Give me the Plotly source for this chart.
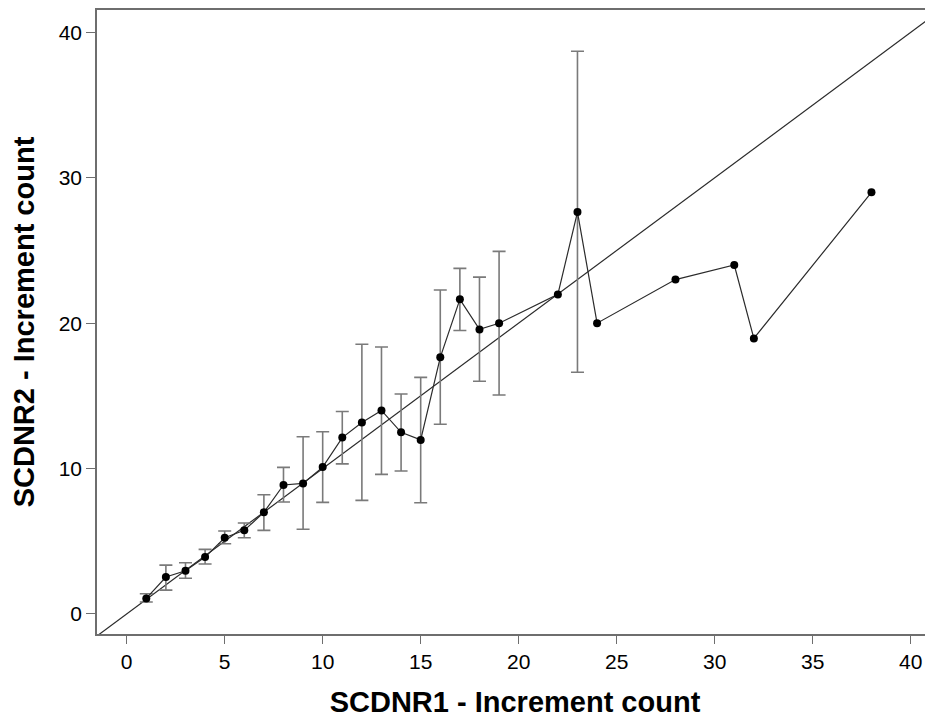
import plotly.graph_objects as go

# ---- data ----
scdnr1 = [1, 2, 3, 4, 5, 6, 7, 8, 9, 10, 11, 12, 13, 14, 15, 16, 17, 18, 19,
          22, 23, 24, 28, 31, 32, 38]
scdnr2 = [1.07, 2.54, 2.97, 3.91, 5.24, 5.75, 6.99, 8.87, 8.98, 10.10, 12.13,
          13.17, 14.0, 12.49, 11.97, 17.65, 21.64, 19.57, 19.99, 21.98, 27.64,
          20.0, 23.0, 24.0, 18.95, 29.0]
upper = [1.39, 3.36, 3.52, 4.44, 5.70, 6.25, 8.20, 10.08, 12.19, 12.53, 13.92,
         18.55, 18.36, 15.13, 16.27, 22.28, 23.77, 23.17, 24.94, None, 38.7,
         None, None, None, None, None]
lower = [0.82, 1.64, 2.45, 3.43, 4.83, 5.24, 5.75, 7.70, 5.82, 7.67, 10.32,
         7.81, 9.60, 9.83, 7.65, 13.05, 19.50, 16.0, 15.06, None, 16.62,
         None, None, None, None, None]
identity = [-5, 45]
x_ticks = [0, 5, 10, 15, 20, 25, 30, 35, 40]
y_ticks = [0, 10, 20, 30, 40]
x_title = "SCDNR1 - Increment count"
y_title = "SCDNR2 - Increment count"

# error arrays
eb_x, eb_y, eb_plus, eb_minus = [], [], [], []
for xi, yi, u, l in zip(scdnr1, scdnr2, upper, lower):
    if u is not None:
        eb_x.append(xi)
        eb_y.append(yi)
        eb_plus.append(u - yi)
        eb_minus.append(yi - l)

FONT = "Liberation Sans, Arial, sans-serif"
AX = "#6e6e6e"

fig = go.Figure()
fig.add_trace(go.Scatter(
    x=identity, y=identity, mode="lines",
    line=dict(color="#2b2b2b", width=1.2), hoverinfo="skip", showlegend=False))
fig.add_trace(go.Scatter(
    x=eb_x, y=eb_y, mode="markers",
    marker=dict(size=1, color="rgba(0,0,0,0)"),
    error_y=dict(type="data", symmetric=False, array=eb_plus, arrayminus=eb_minus,
                 color="#7a7a7a", thickness=1.6, width=6.5),
    showlegend=False))
fig.add_trace(go.Scatter(
    x=scdnr1, y=scdnr2, mode="lines+markers",
    line=dict(color="#2b2b2b", width=1.2),
    marker=dict(color="black", size=8), showlegend=False))

fig.update_layout(
    width=925, height=711,
    margin=dict(l=89, r=0, t=2, b=85, autoexpand=False),
    paper_bgcolor="white", plot_bgcolor="white",
    font=dict(family=FONT, color="black"),
    xaxis=dict(range=[-1.515, 41.14], tickvals=x_ticks, showgrid=False, zeroline=False,
               automargin=False,
               showline=True, linecolor=AX, linewidth=1.6, mirror=True,
               ticks="outside", ticklen=8, tickwidth=1.4, tickcolor=AX,
               tickfont=dict(size=21, family=FONT),
               title=dict(text="<b>" + x_title + "</b>", font=dict(size=29, family=FONT),
                          standoff=20)),
    yaxis=dict(range=[-1.38, 41.54], tickvals=y_ticks, showgrid=False, zeroline=False,
               automargin=False,
               showline=True, linecolor=AX, linewidth=1.6, mirror=False,
               ticks="outside", ticklen=9, tickwidth=1.4, tickcolor=AX,
               tickfont=dict(size=21, family=FONT),
               title=dict(text="<b>" + y_title + "</b>", font=dict(size=29, family=FONT),
                          standoff=16)),
)

fig.write_html("out.html")
